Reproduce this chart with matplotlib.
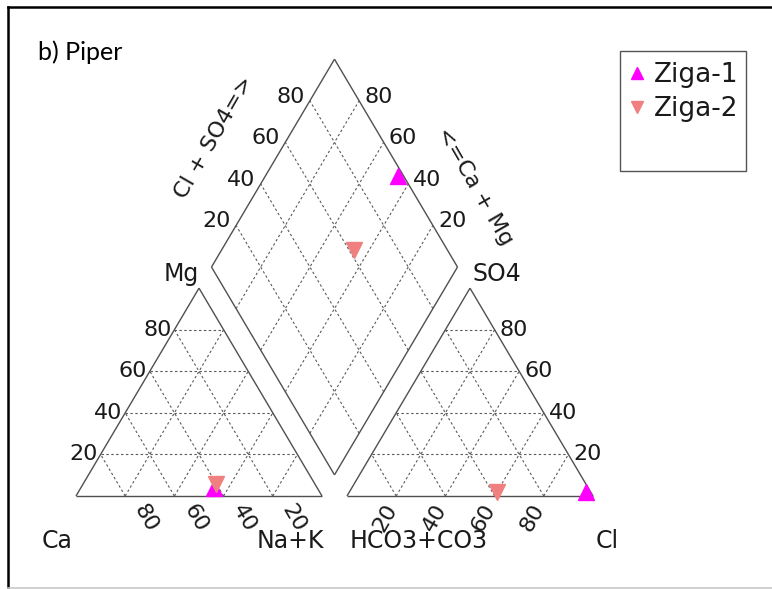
import numpy as np
import matplotlib
matplotlib.use('Agg')
import matplotlib.pyplot as plt
from matplotlib.lines import Line2D
from matplotlib.patches import Rectangle

# ── Data (percent of meq) ──────────────────────────────────
sites = ['Ziga-1', 'Ziga-2']
ca = [42, 40]
mg = [4, 6]
nak = [54, 54]
hco3 = [2, 38]
so4 = [2, 2]
cl = [96, 60]
colors = ['#FF00FF', '#F08080']
markers = ['^', 'v']
ticks = [20, 40, 60, 80]

# ── Geometry ───────────────────────────────────────────────
W, H = 772, 589
PX0, PY0, SX, SY = 76, 496, 246, 240   # pixel origin / scale
G = 0.1016                              # gap between panels
h = np.sqrt(3) / 2
OUT = '#505050'
GRID = '#5A5A5A'

plt.rcParams['font.family'] = ['DejaVu Sans']
plt.rcParams['text.color'] = '#1A1A1A'

fig = plt.figure(figsize=(W / 100, H / 100), dpi=100)
ax = fig.add_axes([0, 0, 1, 1])
ax.set_xlim(-PX0 / SX, (W - PX0) / SX)
ax.set_ylim((PY0 - H) / SY, PY0 / SY)
ax.axis('off')


def px(dx, dy):
    # pixel offset -> data offset
    return dx / SX, -dy / SY


def left_tri(c, m):
    # c = Ca fraction, m = Mg fraction
    n = 1 - c - m
    return n + m / 2, m * h


def right_tri(cl_, s):
    return 1 + G + cl_ + s / 2, s * h


def diamond(a, c):
    # a = Cl+SO4, c = Ca+Mg
    bx, by = 1 + G / 2, G * h
    return bx + 0.5 * (a - c), by + h * (a + c)


def seg(p, q, **kw):
    ax.plot([p[0], q[0]], [p[1], q[1]], **kw)


outline = dict(color=OUT, lw=1.0, solid_capstyle='butt')
grid = dict(color=GRID, lw=0.8, ls=(0, (2.2, 2.2)))

# ── Triangles ──────────────────────────────────────────────
for off in (0, 1 + G):
    A, B, C = (off, 0), (off + 1, 0), (off + 0.5, h)
    seg(A, B, **outline); seg(B, C, **outline); seg(C, A, **outline)
    for t in ticks:
        f = t / 100
        seg((off + f / 2, f * h), (off + 1 - f / 2, f * h), **grid)
        seg((off + f, 0), (off + f / 2, f * h), **grid)
        seg((off + f, 0), (off + 0.5 + f / 2, (1 - f) * h), **grid)

# ── Diamond ────────────────────────────────────────────────
Db, Dl, Dt, Dr = diamond(0, 0), diamond(0, 1), diamond(1, 1), diamond(1, 0)
for p, q in [(Db, Dl), (Dl, Dt), (Dt, Dr), (Dr, Db)]:
    seg(p, q, **outline)
for t in ticks:
    f = t / 100
    seg(diamond(f, 0), diamond(f, 1), **grid)
    seg(diamond(0, f), diamond(1, f), **grid)

# ── Tick labels ────────────────────────────────────────────
fs = 16
for t in ticks:
    f = t / 100
    # left triangle: Mg on left edge
    dx, dy = px(-3, 0)
    ax.text(f / 2 + dx, f * h + dy, str(t), ha='right', va='center',
            fontsize=fs)
    # left triangle: Ca along base (rotated)
    dx, dy = px(21, 22)
    ax.text(1 - f + dx, dy, str(t), ha='center', va='center',
            rotation=-60, fontsize=fs)
    # right triangle: SO4 on right edge
    dx, dy = px(5, 0)
    ax.text(2 + G - f / 2 + dx, f * h + dy, str(t), ha='left',
            va='center', fontsize=fs)
    # right triangle: Cl along base
    dx, dy = px(-11, 22)
    ax.text(1 + G + f + dx, dy, str(t), ha='center', va='center',
            rotation=60, fontsize=fs)
    # diamond upper-left edge: Cl + SO4
    x, y = diamond(f, 1)
    dx, dy = px(-5, -4)
    ax.text(x + dx, y + dy, str(t), ha='right', va='center', fontsize=fs)
    # diamond upper-right edge: Ca + Mg
    x, y = diamond(1, f)
    dx, dy = px(5, -4)
    ax.text(x + dx, y + dy, str(t), ha='left', va='center', fontsize=fs)

# ── Corner / axis labels ───────────────────────────────────
def ptext(xp, yp, s, size=17, **kw):
    ax.text((xp - PX0) / SX, (PY0 - yp) / SY, s, ha='center',
            va='center', fontsize=size, **kw)

ptext(181, 274, 'Mg')
ptext(497, 274, 'SO4')
ptext(57, 541, 'Ca')
ptext(290, 541, 'Na+K')
ptext(419, 541, 'HCO3+CO3')
ptext(607, 541, 'Cl')
ptext(214, 137, 'Cl + SO4=>', size=16, rotation=60)
ptext(475, 186, '<=Ca + Mg', size=16, rotation=-60)

# ── Samples ────────────────────────────────────────────────
for i, name in enumerate(sites):
    pts = [left_tri(ca[i] / 100, mg[i] / 100),
           right_tri(cl[i] / 100, so4[i] / 100),
           diamond((cl[i] + so4[i]) / 100, (ca[i] + mg[i]) / 100)]
    xs = [p[0] for p in pts]
    ys = [p[1] for p in pts]
    ax.plot(xs, ys, ls='none', marker=markers[i], ms=11, color=colors[i],
            mec=colors[i], label=name, zorder=5)

# ── Legend (box drawn separately, it has empty space below) ─
fig.add_artist(Rectangle((620 / W, 1 - 171 / H), 126 / W, 120 / H,
                         transform=fig.transFigure, fill=False,
                         edgecolor='#555555', lw=1.0))
fig.legend(loc='upper left', bbox_to_anchor=(616 / W, 1 - 49 / H),
           frameon=False, fontsize=19, handlelength=0.6,
           handletextpad=0.35, borderpad=0, labelspacing=0.3,
           markerscale=0.85)

# ── Title and frame ────────────────────────────────────────
fig.text(38 / W, 1 - 52 / H, 'b) Piper', fontsize=18, ha='left',
         va='center', family=['Lato', 'DejaVu Sans'], color='black')
fig.add_artist(Line2D([8 / W, 8 / W], [0, 1 - 7 / H], color='black',
                      lw=1.8, transform=fig.transFigure))
fig.add_artist(Line2D([8 / W, 1], [1 - 7 / H, 1 - 7 / H], color='black',
                      lw=1.8, transform=fig.transFigure))
fig.add_artist(Line2D([8 / W, 1], [1 - 588 / H, 1 - 588 / H],
                      color='#C8C8C8', lw=1.2, transform=fig.transFigure))

fig.savefig('out.png', dpi=100)
